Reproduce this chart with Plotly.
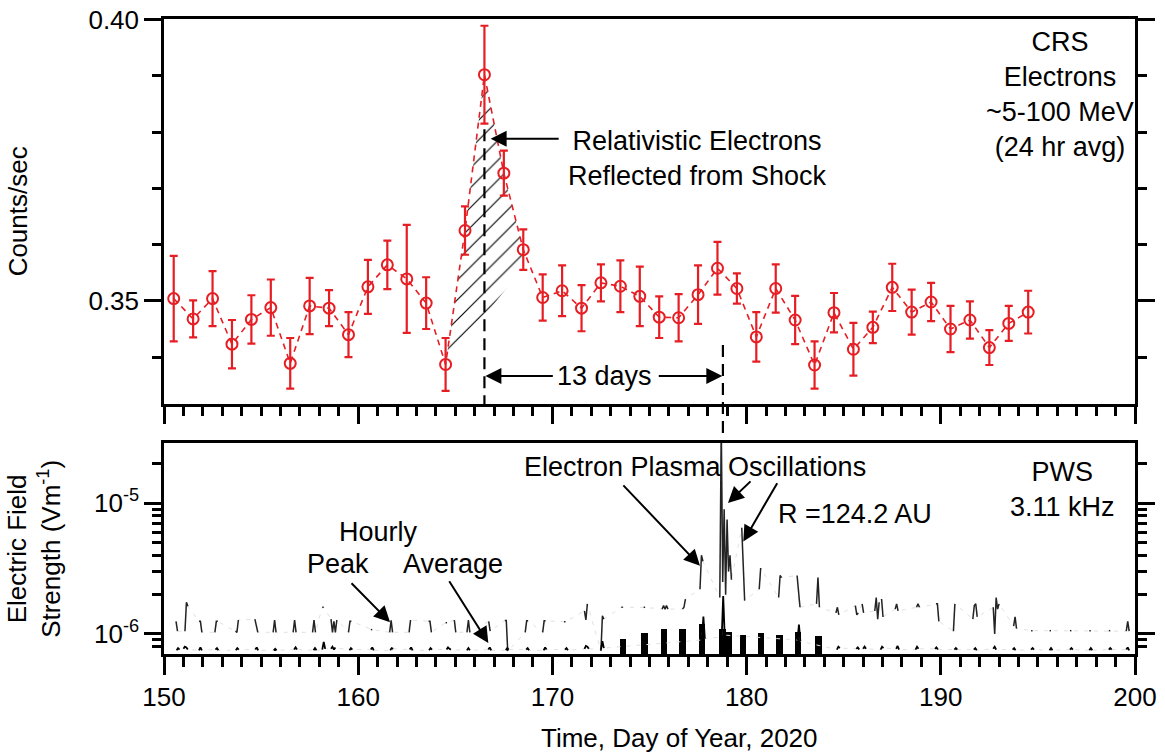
import plotly.graph_objects as go

# ---------------- data: CRS electrons (top panel) ----------------
DAY = [150.5, 151.5, 152.5, 153.5, 154.5, 155.5, 156.5, 157.5, 158.5, 159.5,
       160.5, 161.5, 162.5, 163.5, 164.5, 165.5, 166.5, 167.5, 168.5, 169.5,
       170.5, 171.5, 172.5, 173.5, 174.5, 175.5, 176.5, 177.5, 178.5, 179.5,
       180.5, 181.5, 182.5, 183.5, 184.5, 185.5, 186.5, 187.5, 188.5, 189.5,
       190.5, 191.5, 192.5, 193.5, 194.5]
COUNTS = [0.3504, 0.3468, 0.3504, 0.3423, 0.3467, 0.3488, 0.3389, 0.3491, 0.3487, 0.3440,
          0.3525, 0.3564, 0.3539, 0.3496, 0.3387, 0.3625, 0.3902, 0.3727, 0.3591, 0.3506,
          0.3518, 0.3487, 0.3532, 0.3526, 0.3508, 0.3471, 0.3470, 0.3511, 0.3558, 0.3522,
          0.3436, 0.3522, 0.3466, 0.3386, 0.3479, 0.3414, 0.3453, 0.3524, 0.3480, 0.3498,
          0.3450, 0.3466, 0.3417, 0.3460, 0.3480]
ERR = [0.0076, 0.0033, 0.0049, 0.0043, 0.0043, 0.0050, 0.0045, 0.0050, 0.0032, 0.0040,
       0.0048, 0.0043, 0.0096, 0.0046, 0.0047, 0.0043, 0.0087, 0.0040, 0.0036, 0.0041,
       0.0045, 0.0041, 0.0033, 0.0046, 0.0053, 0.0037, 0.0042, 0.0052, 0.0047, 0.0027,
       0.0044, 0.0043, 0.0043, 0.0042, 0.0035, 0.0047, 0.0028, 0.0042, 0.0040, 0.0034,
       0.0041, 0.0033, 0.0031, 0.0031, 0.0038]
# hatched region: from the day-164.5 point over the peak to this corner
HATCH_FIRST, HATCH_LAST = 14, 18
HATCH_END = (168.74, 0.3570)

SHOCK_DAY = 166.5
PLASMA_DAY = 178.78

# ---------------- data: PWS 3.11 kHz (bottom panel), in uV/m ----------------
STEP = 0.075  # days between samples inside a burst
PEAK_START = [150.62, 151.08, 151.80, 152.62, 153.68, 154.68, 155.62, 156.65, 157.65, 158.15,
              158.60, 159.50, 160.65, 161.62, 162.62, 163.62, 164.50, 164.95, 165.60, 166.72,
              167.55, 168.60, 169.50, 170.60, 171.65, 172.50, 173.55, 174.70, 175.65, 176.70,
              177.60, 178.62, 179.75, 180.65, 181.65, 182.60, 183.60, 184.60, 185.60, 185.95,
              186.60, 186.95, 187.65, 188.75, 189.75, 190.65, 191.65, 192.70, 193.75, 194.65,
              195.60, 196.65, 197.65, 198.65, 199.55]
PEAK_UV = [[1.25, 1.05], [1.05, 1.75, 1.63], [1.25, 1.25, 1.03], [1.03, 1.25, 1.25],
           [1.05, 1.03, 1.28], [1.30, 1.15, 1.03], [1.03, 1.28, 1.03], [1.03, 1.28, 1.03],
           [1.03, 1.28, 1.03], [1.60, 1.60], [1.30, 1.03, 1.25, 1.03, 1.28], [1.03, 1.25, 1.25],
           [1.08, 1.08], [1.03, 1.27, 1.03], [1.03, 1.28], [1.25, 1.25, 1.03], [1.22, 1.22],
           [1.28, 1.03], [1.03, 1.28, 1.03], [1.25, 1.05], [1.27, 1.27, 0.74], [1.03, 1.26, 1.26],
           [1.03, 1.26, 1.26], [1.24, 1.24], [1.50, 1.28, 1.70], [0.74, 1.38, 1.30], [1.60, 1.60],
           [1.60, 1.60], [1.55, 1.65, 1.55, 1.65, 1.55], [1.55, 1.60, 1.85], [2.2, 4.0, 3.6],
           [1.9, 40.0, 2.5, 9.0, 2.0, 7.5, 3.0, 4.0, 2.6], [6.5, 3.0, 1.8], [2.2, 3.2],
           [1.9, 2.8, 2.7], [2.8, 2.0, 1.6], [1.7, 2.7, 1.6], [1.45, 1.60, 1.40], [1.65, 1.40, 1.45],
           [1.70, 1.45], [1.50, 1.90, 1.30, 1.75], [1.85, 1.35], [1.55, 1.70, 1.50],
           [1.60, 1.70, 1.60], [1.70, 1.70, 1.25], [1.05, 1.70], [1.30, 1.65, 1.70, 1.35],
           [1.60, 1.00, 1.90, 1.55, 1.70], [1.15, 1.35, 1.10], [1.06, 1.06], [1.06, 1.06],
           [1.06, 1.06], [1.06, 1.06], [1.06, 1.06], [1.05, 1.25, 1.05]]
AVG_START = [150.65, 151.00, 151.80, 152.65, 153.70, 154.70, 155.65, 156.70, 157.70, 158.15,
             158.60, 159.55, 160.65, 161.65, 162.65, 163.65, 164.55, 165.60, 166.70, 167.60,
             168.65, 169.55, 170.65, 171.65, 172.50, 177.70, 178.72, 182.62, 184.65, 185.65,
             186.00, 186.90, 187.70, 188.70, 189.70, 190.70, 191.70, 192.70, 193.70, 194.65,
             195.60, 196.65, 197.65, 198.65, 199.55]
AVG_UV = [[0.75, 0.78, 0.76], [0.77, 0.80, 0.79, 0.76], [0.75, 0.79, 0.75], [0.76, 0.78, 0.75],
          [0.75, 0.78, 0.76], [0.76, 0.79, 0.75], [0.75, 0.77, 0.75], [0.76, 0.79, 0.76],
          [0.75, 0.78, 0.75], [0.76, 0.87, 0.77], [0.77, 0.80, 0.76, 0.79], [0.75, 0.78, 0.76],
          [0.76, 0.79, 0.75], [0.75, 0.78, 0.77], [0.76, 0.79, 0.75], [0.75, 0.78, 0.76],
          [0.76, 0.79, 0.77, 0.76], [0.75, 0.78, 0.75], [0.76, 0.79, 0.75], [0.75, 0.78, 0.76],
          [0.76, 0.78, 0.75], [0.75, 0.79, 0.76], [0.76, 0.78, 0.75], [0.77, 0.81, 0.80, 0.77],
          [0.76, 0.88, 0.78], [0.90, 1.36, 0.92], [0.95, 1.95, 0.98], [0.90, 1.18, 0.88],
          [0.76, 0.80, 0.78], [0.77, 0.79, 0.76], [0.77, 0.80, 0.77], [0.76, 0.80, 0.78],
          [0.77, 0.81, 0.76], [0.76, 0.80, 0.77], [0.77, 0.79, 0.76], [0.76, 0.78, 0.76],
          [0.76, 0.78, 0.75], [0.77, 0.80, 0.76], [0.76, 0.78, 0.75], [0.76, 0.78, 0.76],
          [0.75, 0.78, 0.75], [0.76, 0.78, 0.76], [0.75, 0.78, 0.75], [0.76, 0.78, 0.76],
          [0.76, 0.79, 0.75]]
BAR_DAY = [173.65, 174.75, 175.75, 176.70, 177.70, 178.75, 179.10, 179.80, 180.75, 181.70,
           182.65, 183.70]
BAR_TOP_UV = [0.92, 1.02, 1.10, 1.10, 1.20, 1.10, 1.05, 0.98, 1.02, 0.99, 1.05, 0.97]
BAR_BASE_UV = 0.70
UV = 1e-6

# ---------------- helpers ----------------
def bursts(starts, vals, gaps):
    xs, ys = [], []
    for s, v in zip(starts, vals):
        for k, val in enumerate(v):
            xs.append(s + k * STEP)
            ys.append(val * UV)
        if gaps:
            xs.append(None)
            ys.append(None)
    return xs, ys

RED = "rgb(230,30,36)"
FONT = "Liberation Sans, Arial, sans-serif"

fig = go.Figure()

# hatched region
hx = DAY[HATCH_FIRST:HATCH_LAST + 1] + [HATCH_END[0], DAY[HATCH_FIRST]]
hy = COUNTS[HATCH_FIRST:HATCH_LAST + 1] + [HATCH_END[1], COUNTS[HATCH_FIRST]]
fig.add_trace(go.Scatter(x=hx, y=hy, mode="lines", fill="toself", line=dict(width=0),
                         fillcolor="rgba(255,255,255,0)",
                         fillpattern=dict(shape="/", fgcolor="black", fgopacity=1,
                                          bgcolor="rgba(255,255,255,0)", size=14, solidity=0.08),
                         hoverinfo="skip", showlegend=False, xaxis="x", yaxis="y"))

# red dashed series with error bars
fig.add_trace(go.Scatter(x=DAY, y=COUNTS, mode="lines+markers",
                         line=dict(color=RED, width=1.6, dash="6px,5px"),
                         marker=dict(symbol="circle-open", size=11, color=RED, line=dict(width=2, color=RED)),
                         error_y=dict(type="data", array=ERR, color=RED, thickness=2.2, width=4),
                         showlegend=False, xaxis="x", yaxis="y"))

# bottom panel: faint connectors
px_c, py_c = bursts(PEAK_START, PEAK_UV, gaps=False)
fig.add_trace(go.Scatter(x=px_c, y=py_c, mode="lines",
                         line=dict(color="rgb(225,225,225)", width=1, dash="4px,6px"),
                         showlegend=False, xaxis="x2", yaxis="y2", hoverinfo="skip"))
ax_c, ay_c = bursts(AVG_START, AVG_UV, gaps=False)
fig.add_trace(go.Scatter(x=ax_c, y=ay_c, mode="lines",
                         line=dict(color="rgb(225,225,225)", width=1, dash="4px,6px"),
                         showlegend=False, xaxis="x2", yaxis="y2", hoverinfo="skip"))
# bars of hourly average
fig.add_trace(go.Bar(x=BAR_DAY, y=[(t - BAR_BASE_UV) * UV for t in BAR_TOP_UV], base=BAR_BASE_UV * UV,
                     width=0.33, marker=dict(color="black", line=dict(width=0)),
                     showlegend=False, xaxis="x2", yaxis="y2"))
# bursts
px_b, py_b = bursts(PEAK_START, PEAK_UV, gaps=True)
fig.add_trace(go.Scatter(x=px_b, y=py_b, mode="lines", line=dict(color="rgb(35,35,35)", width=1.5),
                         connectgaps=False, showlegend=False, xaxis="x2", yaxis="y2"))
ax_b, ay_b = bursts(AVG_START, AVG_UV, gaps=True)
fig.add_trace(go.Scatter(x=ax_b, y=ay_b, mode="lines", line=dict(color="black", width=1.8),
                         connectgaps=False, showlegend=False, xaxis="x2", yaxis="y2"))

# ---------------- axes ----------------
axis_common = dict(showline=True, linewidth=2.5, linecolor="black", ticks="outside",
                   tickwidth=2.5, tickcolor="black", showgrid=False, zeroline=False,
                   automargin=False,
                   tickfont=dict(family=FONT, size=26, color="black"))
xticks = [150, 160, 170, 180, 190, 200]
fig.update_layout(
    xaxis=dict(axis_common, domain=[0, 1], anchor="y", range=[150, 200], tickvals=xticks,
               ticklen=17, showticklabels=False, mirror=True,
               minor=dict(dtick=1, ticklen=9, ticks="outside", tickwidth=2.5, tickcolor="black")),
    yaxis=dict(axis_common, domain=[0.3937, 1], anchor="x", range=[0.33167, 0.4001],
               tickvals=[0.35, 0.40], ticktext=["0.35", "0.40"], ticklen=17, mirror="ticks",
               minor=dict(tickvals=[0.34, 0.36, 0.37, 0.38, 0.39], ticklen=9, ticks="outside",
                          tickwidth=2.5, tickcolor="black")),
    xaxis2=dict(axis_common, domain=[0, 1], anchor="y2", range=[150, 200], tickvals=xticks,
                ticklen=18, mirror=True,
                minor=dict(dtick=1, ticklen=10, ticks="outside", tickwidth=2.5, tickcolor="black")),
    yaxis2=dict(axis_common, domain=[0, 0.3328], anchor="x2", type="log", range=[-6.153, -4.537],
                tickvals=[1e-6, 1e-5], ticktext=["10<sup>-6</sup>", "10<sup>-5</sup>"],
                ticklen=17, mirror="ticks",
                minor=dict(tickvals=[7e-7, 8e-7, 9e-7, 2e-6, 3e-6, 4e-6, 5e-6, 6e-6, 7e-6, 8e-6,
                                     9e-6, 2e-5], ticklen=9, ticks="outside",
                           tickwidth=2.5, tickcolor="black")),
    width=1165, height=752, margin=dict(l=164, r=30, t=19, b=98, autoexpand=False),
    paper_bgcolor="white", plot_bgcolor="white", bargap=0,
    font=dict(family=FONT, size=26, color="black"),
)

# ---------------- shapes ----------------
fig.add_shape(type="line", xref="x", yref="y", x0=SHOCK_DAY, x1=SHOCK_DAY, y0=0.3805, y1=0.33167,
              line=dict(color="black", width=2.2, dash="12px,7px"))
fig.add_shape(type="line", xref="x", yref="paper", x0=PLASMA_DAY, x1=PLASMA_DAY, y0=0.4866, y1=0.3328,
              line=dict(color="black", width=2.2, dash="12px,7px"))

# ---------------- annotations ----------------
def txt(x, y, s, xref="x", yref="y", size=27, **kw):
    fig.add_annotation(x=x, y=y, xref=xref, yref=yref, text=s, showarrow=False,
                       xanchor="center", yanchor="middle",
                       font=dict(family=FONT, size=size, color="black"), **kw)

def arrow(x, y, ax, ay, xref, yref):
    fig.add_annotation(x=x, y=y, ax=ax, ay=ay, xref=xref, yref=yref, axref=xref, ayref=yref,
                       text="", showarrow=True, arrowhead=2, arrowsize=1.6, arrowwidth=2,
                       arrowcolor="black")

# axis titles
txt(-0.1504, 0.697, "Counts/sec", xref="paper", yref="paper", size=26, textangle=-90)
txt(-0.1334, 0.1663, "Electric Field<br>Strength (Vm<sup>-1</sup>)", xref="paper", yref="paper",
    size=26, textangle=-90)
txt(0.531, -0.132, "Time, Day of Year, 2020", xref="paper", yref="paper", size=26)

# top panel texts
txt(196.14, 0.38669, "CRS<br>Electrons<br>~5-100 MeV<br>(24 hr avg)")
txt(177.45, 0.37533, "Relativistic Electrons<br>Reflected from Shock")
arrow(166.82, 0.37883, 170.4, 0.37883, "x", "y")
txt(172.7, 0.33663, "13 days")
arrow(166.55, 0.33663, 170.1, 0.33663, "x", "y")
arrow(178.75, 0.33663, 175.4, 0.33663, "x", "y")

# bottom panel texts (log10 coordinates on the log axis)
txt(177.35, -4.725, "Electron Plasma Oscillations", xref="x2", yref="y2")
arrow(177.6, -5.479, 173.58, -4.852, "x2", "y2")
arrow(179.04, -4.998, 180.28, -4.822, "x2", "y2")
arrow(179.83, -5.293, 181.62, -4.835, "x2", "y2")
txt(185.58, -5.082, "R =124.2 AU", xref="x2", yref="y2")
txt(196.29, -4.898, "PWS<br>3.11 kHz", xref="x2", yref="y2")
txt(161.02, -5.219, "Hourly", xref="x2", yref="y2")
txt(158.96, -5.463, "Peak", xref="x2", yref="y2")
txt(164.88, -5.463, "Average", xref="x2", yref="y2")
arrow(161.64, -5.911, 159.58, -5.60, "x2", "y2")
arrow(166.7, -6.069, 164.64, -5.585, "x2", "y2")

fig.write_html("out.html")
